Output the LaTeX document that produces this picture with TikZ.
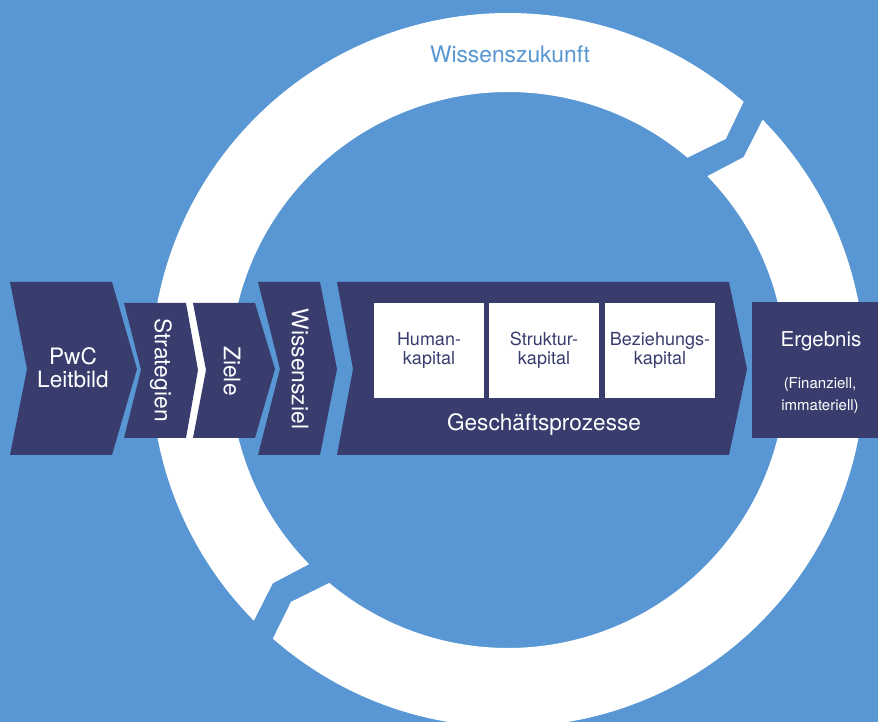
\documentclass[tikz,border=0pt]{standalone}
\usepackage{fontspec}
\setmainfont{TeX Gyre Heros}
\definecolor{bgblue}{RGB}{88,151,211}
\definecolor{navy}{RGB}{56,61,110}
\begin{document}
\begin{tikzpicture}[x=1pt,y=1pt,
  shapefill/.style={fill=navy},
  whitebox/.style={fill=white},
  ringpart/.style={fill=white},
  bigtxt/.style={text=white,font=\fontsize{22.6}{23}\selectfont,align=center,inner sep=0pt},
  boxtxt/.style={text=navy,font=\fontsize{18}{19}\selectfont,align=center,inner sep=0pt},
  vtxt/.style={text=white,font=\fontsize{22.8}{23}\selectfont,rotate=-90,inner sep=0pt}]
\useasboundingbox (0,0) rectangle (878,722);
\fill[bgblue] (0,0) rectangle (878,722);
\begin{scope}
\clip (0,0) rectangle (878,722);
% ring, centre (508,352)
\begin{scope}[shift={(508,352)}]
\fill[ringpart] (224.6:357) -- (222.2:317.5) -- (224.3:278)
  arc[start angle=224.3, end angle=49.8, radius=278]
  -- (46.7:317.5) -- (48.7:357)
  arc[start angle=48.7, end angle=224.6, radius=357] -- cycle;
\fill[ringpart] (44.5:357) -- (42.1:317.5) -- (44.2:278)
  arc[start angle=44.2, end angle=-130, radius=278]
  -- (-133.1:317.5) -- (-131.2:357)
  arc[start angle=-131.2, end angle=44.5, radius=357] -- cycle;
\end{scope}
% chevrons
\fill[shapefill] (10,440) -- (112,440) -- (137,353) -- (112,267) -- (10,267) -- (27,353) -- cycle;
\fill[shapefill] (124,419) -- (186,419) -- (198,352) -- (186,284) -- (124,284) -- (141,352) -- cycle;
\fill[shapefill] (193,419) -- (255,419) -- (275,353) -- (255,284) -- (193,284) -- (206,352) -- cycle;
\fill[shapefill] (258,440) -- (320,440) -- (337,353) -- (320,267) -- (258,267) -- (280,353) -- cycle;
\fill[shapefill] (337,440) -- (729,440) -- (747,353) -- (729,267) -- (337,267) -- (353,353) -- cycle;
\fill[shapefill] (752,420) rectangle (890,284);
% white boxes
\fill[whitebox] (374,419) rectangle (484,324);
\fill[whitebox] (489,419) rectangle (599,324);
\fill[whitebox] (605,419) rectangle (715,324);
\end{scope}
% texts
\node[text=bgblue,font=\fontsize{22.8}{23}\selectfont,inner sep=0pt] (wz) at (510,668) {Wissenszukunft};
\node[bigtxt] (pwc) at (73,354) {PwC\\Leitbild};
\node[vtxt] (str) at (161,352) {Strategien};
\node[vtxt] (ziele) at (232,351) {Ziele};
\node[vtxt] (wziel) at (300,353) {Wissensziel};
\node[boxtxt] (hum) at (429,372) {Human-\\kapital};
\node[boxtxt] (struk) at (544,372) {Struktur-\\kapital};
\node[boxtxt] (bez) at (660,372) {Beziehungs-\\kapital};
\node[bigtxt] (gp) at (544,297) {Geschäftsprozesse};
\node[text=white,font=\fontsize{20.5}{22}\selectfont,inner sep=0pt] (erg) at (821,381) {Ergebnis};
\node[text=white,font=\fontsize{15}{22}\selectfont,align=center,inner sep=0pt] (fin) at (820,326) {(Finanziell,\\immateriell)};
\end{tikzpicture}
\end{document}
